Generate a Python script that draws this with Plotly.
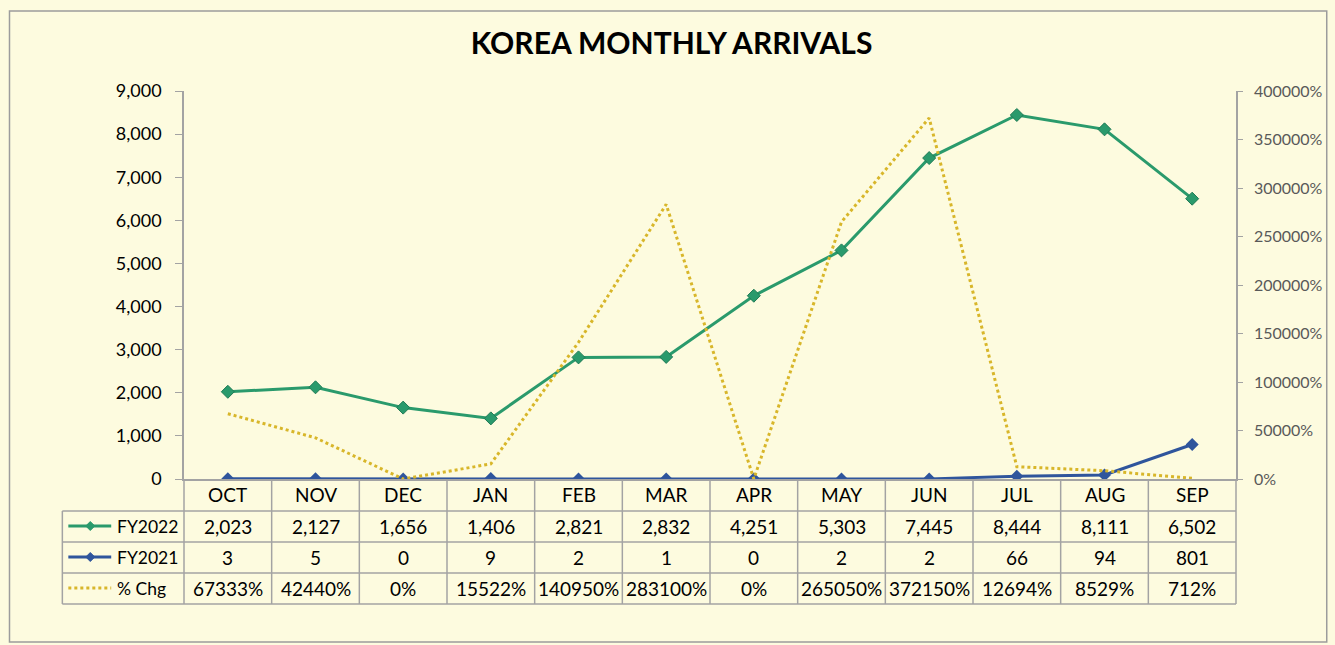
import plotly.graph_objects as go

months = ["OCT", "NOV", "DEC", "JAN", "FEB", "MAR", "APR", "MAY", "JUN", "JUL", "AUG", "SEP"]
fy2022 = [2023, 2127, 1656, 1406, 2821, 2832, 4251, 5303, 7445, 8444, 8111, 6502]
fy2021 = [3, 5, 0, 9, 2, 1, 0, 2, 2, 66, 94, 801]
pct_chg = [67333, 42440, 0, 15522, 140950, 283100, 0, 265050, 372150, 12694, 8529, 712]

GREEN = "#2A9A6C"
BLUE = "#2F559C"
GOLD = "#D8B62A"
GRID = "#A3A3A3"
BG = "#FDFBDF"
FONT = "Lato"

W, H = 1335, 645
L, R, T, B = 184, 1239, 91, 479
PW, PH = R - L, B - T


def px(x):
    return (x - L) / PW


def py(y):
    return (B - y) / PH


fig = go.Figure()
fig.add_trace(go.Scatter(x=months, y=pct_chg, name="% Chg", yaxis="y2", mode="lines",
                         line=dict(color=GOLD, width=3, dash="dot")))
fig.add_trace(go.Scatter(x=months, y=fy2021, name="FY2021", mode="lines+markers",
                         line=dict(color=BLUE, width=3),
                         marker=dict(symbol="diamond", size=10, color=BLUE)))
fig.add_trace(go.Scatter(x=months, y=fy2022, name="FY2022", mode="lines+markers",
                         line=dict(color=GREEN, width=3),
                         marker=dict(symbol="diamond", size=10, color=GREEN,
                                     line=dict(color="#1F7A55", width=1))))

shapes = []
annotations = []


def hline(y, x0, x1):
    shapes.append(dict(type="line", xref="paper", yref="paper", x0=px(x0), x1=px(x1),
                       y0=py(y), y1=py(y), line=dict(color=GRID, width=1.5)))


def vline(x, y0, y1):
    shapes.append(dict(type="line", xref="paper", yref="paper", x0=px(x), x1=px(x),
                       y0=py(y0), y1=py(y1), line=dict(color=GRID, width=1.5)))


def label(x, y, text, anchor="center", size=19):
    annotations.append(dict(x=x, y=py(y), xref="paper", yref="paper", text=text,
                            xanchor=anchor, yanchor="middle", showarrow=False,
                            font=dict(size=size, color="black")))


# table grid
for y in [511, 542, 573, 604]:
    hline(y, 62, R)
vline(62, 511, 604)
for i in range(13):
    vline(L + i * PW / 12, B, 604)

header_y = 494
row_y = [526, 557, 588]
rows = [
    ("FY2022", [f"{v:,}" for v in fy2022], GREEN, "solid"),
    ("FY2021", [f"{v:,}" for v in fy2021], BLUE, "solid"),
    ("% Chg", [f"{v}%" for v in pct_chg], GOLD, "dot"),
]
for i, m in enumerate(months):
    label((i + 0.5) / 12, header_y, m)
for (name, vals, color, dash), yc in zip(rows, row_y):
    for i, v in enumerate(vals):
        label((i + 0.5) / 12, yc, v)
    label(px(115), yc, name, anchor="left", size=17.5)
    # legend key inside the table
    shapes.append(dict(type="line", xref="paper", yref="paper", x0=px(68), x1=px(111),
                       y0=py(yc), y1=py(yc), line=dict(color=color, width=3, dash=dash)))
    if dash == "solid":
        cx, r = 90, 4.5
        shapes.append(dict(type="path", xref="paper", yref="paper",
                           path=f"M {px(cx - r)},{py(yc)} L {px(cx)},{py(yc - r)} "
                                f"L {px(cx + r)},{py(yc)} L {px(cx)},{py(yc + r)} Z",
                           fillcolor=color, line=dict(color=color, width=1)))

# outer border
shapes.append(dict(type="rect", xref="paper", yref="paper", x0=px(9), x1=px(1330),
                   y0=py(11), y1=py(642), line=dict(color="#9C9C9C", width=1.5)))

fig.update_layout(
    width=W, height=H,
    margin=dict(l=L, r=W - R, t=T, b=H - B),
    paper_bgcolor=BG, plot_bgcolor=BG,
    font=dict(family=FONT, color="black"),
    showlegend=False,
    title=dict(text="<b>KOREA MONTHLY ARRIVALS</b>", x=0.503, xanchor="center",
               y=1 - 43 / H, yanchor="middle", font=dict(size=30, family=FONT, color="black")),
    xaxis=dict(type="category", range=[-0.5, 11.5], showticklabels=False, ticks="",
               showline=True, linecolor=GRID, linewidth=1.5, showgrid=False, zeroline=False),
    yaxis=dict(range=[0, 9000], dtick=1000, tickformat=",d", showgrid=False, zeroline=False,
               showline=True, linecolor=GRID, linewidth=1.5, ticks="outside", ticklen=7,
               tickcolor=GRID, tickfont=dict(size=18, color="black"), ticklabelstandoff=10),
    yaxis2=dict(range=[0, 400000], dtick=50000, tickformat="d", ticksuffix="%",
                overlaying="y", side="right", showgrid=False, zeroline=False,
                showline=True, linecolor=GRID, linewidth=1.5, ticks="outside", ticklen=5,
                tickcolor=GRID, tickfont=dict(size=16, color="#595959"), ticklabelstandoff=8),
    shapes=shapes,
    annotations=annotations,
)

fig.write_html("out.html", config={"displayModeBar": False},
               post_script="document.body.style.margin='0';")
